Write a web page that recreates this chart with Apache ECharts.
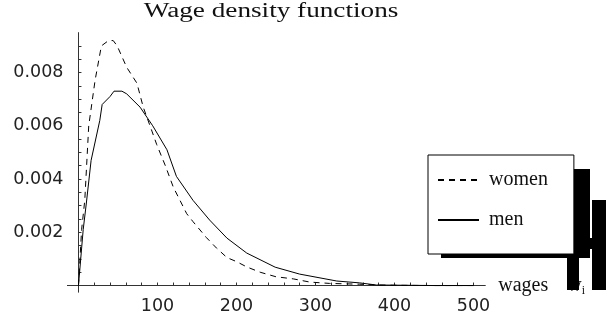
<!DOCTYPE html>
<html>
<head>
<meta charset="utf-8">
<script src="https://cdn.jsdelivr.net/npm/echarts@6/dist/echarts.min.js"></script>
<style>html,body{margin:0;padding:0;background:#fff}#c{width:606px;height:321px}</style>
</head>
<body>
<div id="c"></div>
<script>
// wage (x) values and density readings, per series
var womenWage = [0, 4, 8, 13, 21, 29, 38, 44, 49, 61, 74, 82, 93, 99, 110, 120, 137, 145, 162, 175, 188, 200, 213, 230, 250, 272, 293, 318, 356, 380, 400, 450, 500];
var womenDens = [0, 0.0021, 0.0032, 0.0060, 0.0077, 0.0090, 0.0092, 0.0092, 0.0090, 0.0082, 0.0076, 0.0067, 0.0058, 0.0053, 0.0045, 0.0037, 0.0027, 0.0024, 0.0018, 0.0014, 0.00105, 0.0009, 0.0007, 0.0005, 0.00033, 0.00025, 0.00013, 0.00008, 0.00005, 0.00002, 0.00001, 0, 0];
var menWage = [0, 6, 10, 16, 27, 30, 40, 45, 55, 61, 78, 94, 112, 124, 145, 166, 188, 213, 249, 280, 327, 356, 377, 450, 500];
var menDens = [0, 0.0021, 0.0031, 0.0047, 0.0062, 0.0068, 0.0071, 0.0073, 0.0073, 0.0072, 0.0067, 0.0060, 0.0051, 0.0041, 0.0032, 0.00246, 0.00178, 0.00122, 0.00069, 0.00043, 0.00017, 0.0001, 0.00002, 0, 0];
var xMajor = [100, 200, 300, 400, 500];
var yMajor = [0.002, 0.004, 0.006, 0.008];
var seriesNames = ['women', 'men'];
var titleText = 'Wage density functions';
var xName = 'wages';

function pairs(xs, ys) { return xs.map(function (x, i) { return [x, ys[i]]; }); }
var xMinor = []; for (var k = 1; k <= 25; k++) xMinor.push(k * 20);
var yMinor = []; for (var j = 1; j <= 18; j++) yMinor.push(Math.round(j * 5) / 10000);

var chart = echarts.init(document.getElementById('c'), null, {renderer: 'canvas'});
var axisColor = '#333';
chart.setOption({
  animation: false,
  backgroundColor: '#fff',
  grid: {left: 67.4, top: 32.6, width: 417.9, height: 259.6},
  xAxis: {
    type: 'value', min: -14, max: 515,
    axisLine: {onZero: true, lineStyle: {color: axisColor, width: 1}},
    axisTick: {show: true, inside: true, length: 3, customValues: xMinor, lineStyle: {color: axisColor}},
    axisLabel: {customValues: xMajor, margin: 5, color: '#222', fontFamily: 'DejaVu Sans', fontSize: 17.5},
    splitLine: {show: false},
    name: xName + '{w|w}{i|i}', nameLocation: 'end', nameGap: 13,
    nameTextStyle: {fontFamily: 'Liberation Serif', fontSize: 20, color: '#111',
      rich: {w: {fontFamily: 'Liberation Serif', fontSize: 20, color: '#111', padding: [0, 0, 0, 19]},
             i: {fontFamily: 'Liberation Serif', fontSize: 12, color: '#111', padding: [10, 0, 0, 0]}}}
  },
  yAxis: {
    type: 'value', min: -0.00025, max: 0.0095,
    axisLine: {onZero: true, lineStyle: {color: axisColor, width: 1}},
    axisTick: {show: true, inside: true, length: 3, customValues: yMinor, lineStyle: {color: axisColor}},
    axisLabel: {customValues: yMajor, margin: 4, color: '#222', fontFamily: 'DejaVu Sans', fontSize: 17.5,
      formatter: function (v) { return v.toFixed(3); }},
    splitLine: {show: false}
  },
  legend: {
    orient: 'vertical', left: 428, top: 155,
    padding: [15, 26, 24, 9], itemGap: 20, itemWidth: 41, itemHeight: 14,
    backgroundColor: '#fff', borderColor: '#000', borderWidth: 1, z: 5,
    itemStyle: {opacity: 0},
    textStyle: {fontFamily: 'Liberation Serif', fontSize: 20, color: '#111', padding: [0, 0, 0, 5]},
    data: seriesNames
  },
  graphic: [
    {type: 'text', x: 271, y: 12, scaleX: 1.36, z: 10,
     style: {text: titleText, x: 0, y: 0, font: '20px "Liberation Serif"', fill: '#111', textAlign: 'center', textVerticalAlign: 'middle'}},
    {type: 'rect', z: 1, shape: {x: 441, y: 169, width: 149, height: 89}, style: {fill: '#000'}},
    {type: 'rect', z: 100, shape: {x: 567, y: 256, width: 12, height: 34}, style: {fill: '#000'}},
    {type: 'rect', z: 100, shape: {x: 592, y: 200, width: 14, height: 90}, style: {fill: '#000'}},
    {type: 'rect', z: 100, shape: {x: 589, y: 238, width: 4, height: 11}, style: {fill: '#000'}}
  ],
  series: [
    {name: seriesNames[0], type: 'line', data: pairs(womenWage, womenDens), symbol: 'none', smooth: false,
     lineStyle: {color: '#000', width: 1, type: [6, 5]}, itemStyle: {color: '#000'}},
    {name: seriesNames[1], type: 'line', data: pairs(menWage, menDens), symbol: 'none', smooth: false,
     lineStyle: {color: '#000', width: 1, type: 'solid'}, itemStyle: {color: '#000'}}
  ]
});
</script>
</body>
</html>
